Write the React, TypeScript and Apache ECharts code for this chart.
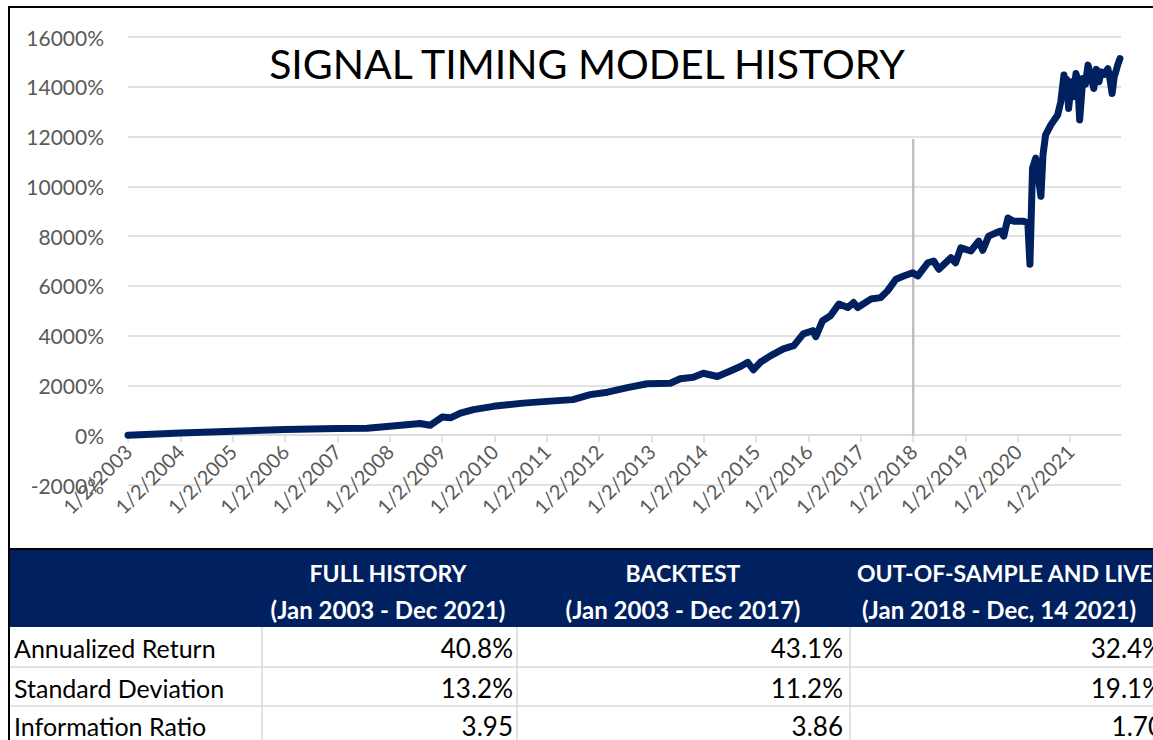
import React, { useEffect, useRef } from "react";
import * as echarts from "echarts";

// ---- chart data ----
const timeYears = [
  2003.0, 2004.0, 2005.0, 2006.0, 2007.0, 2007.57, 2008.0, 2008.58, 2008.77, 2009.0,
  2009.16, 2009.35, 2009.6, 2009.98, 2010.55, 2011.0, 2011.5, 2011.83, 2012.16, 2012.54,
  2012.92, 2013.36, 2013.55, 2013.8, 2013.99, 2014.26, 2014.45, 2014.7, 2014.84, 2014.95,
  2015.08, 2015.28, 2015.52, 2015.72, 2015.9, 2016.08, 2016.14, 2016.27, 2016.42, 2016.58,
  2016.75, 2016.86, 2016.94, 2017.19, 2017.38, 2017.51, 2017.67, 2017.82, 2017.99, 2018.09,
  2018.28, 2018.39, 2018.49, 2018.72, 2018.81, 2018.91, 2019.1, 2019.25, 2019.33, 2019.44,
  2019.58, 2019.67, 2019.73, 2019.81, 2019.92, 2020.11, 2020.19, 2020.23, 2020.28, 2020.34,
  2020.44, 2020.48, 2020.53, 2020.63, 2020.76, 2020.82, 2020.88, 2020.9, 2020.93, 2020.97,
  2021.02, 2021.06, 2021.11, 2021.14, 2021.18, 2021.24, 2021.29, 2021.34, 2021.39, 2021.45,
  2021.5, 2021.55, 2021.59, 2021.65, 2021.72, 2021.76, 2021.8, 2021.84, 2021.87, 2021.91,
  2021.95,
];
const cumulativeReturn = [
  0, 90, 160, 230, 270, 280, 360, 470, 400, 730,
  700, 890, 1030, 1160, 1290, 1360, 1430, 1630, 1730, 1910,
  2070, 2090, 2270, 2330, 2490, 2360, 2530, 2760, 2930, 2630,
  2930, 3200, 3470, 3600, 4070, 4200, 3960, 4600, 4800, 5270,
  5130, 5330, 5130, 5470, 5530, 5800, 6270, 6400, 6530, 6400,
  6930, 7000, 6670, 7130, 6930, 7530, 7400, 7800, 7430, 8000,
  8130, 8200, 8000, 8730, 8600, 8600, 8530, 6870, 10730, 11130,
  9600, 11270, 12070, 12470, 12870, 13400, 14470, 13900, 14300, 13130,
  14200, 13600, 14530, 14300, 12670, 14330, 14100, 14870, 14500, 13930,
  14700, 14200, 14600, 14500, 14730, 14300, 13730, 14400, 14600, 14900,
  15130,
];
const yearTicks = [
  2003, 2004, 2005, 2006, 2007, 2008, 2009, 2010, 2011, 2012,
  2013, 2014, 2015, 2016, 2017, 2018, 2019, 2020, 2021,
];
const dividerYear = 2018.0;
const dividerTop = 11900;

// ---- table data ----
const tableHeadTop = ["FULL HISTORY", "BACKTEST", "OUT-OF-SAMPLE AND LIVE"];
const tableHeadBottom = ["(Jan 2003 - Dec 2021)", "(Jan 2003 - Dec 2017)", "(Jan 2018 - Dec, 14 2021)"];
const rowLabels = ["Annualized Return", "Standard Deviation", "Information Ratio"];
const fullHistory = ["40.8%", "13.2%", "3.95"];
const backtest = ["43.1%", "11.2%", "3.86"];
const outOfSample = ["32.4%", "19.1%", "1.70"];

const NAVY = "#002060";
const FONT = "Lato, 'Open Sans', sans-serif";

export default function App() {
  const ref = useRef<HTMLDivElement>(null);

  useEffect(() => {
    document.body.style.margin = "0";
    if (!ref.current) return;
    const chart = echarts.init(ref.current, null, { renderer: "svg" });

    const lineData = timeYears.map((t, i) => [t, cumulativeReturn[i]]);

    const graphics: any[] = [];
    // chart border
    graphics.push({
      type: "rect",
      shape: { x: 9, y: 7, width: 1200, height: 542 },
      style: { fill: "none", stroke: "#000", lineWidth: 2 },
      z: 10,
    });
    // title
    graphics.push({
      type: "text",
      x: 587,
      y: 63,
      style: {
        text: "SIGNAL TIMING MODEL HISTORY",
        font: `41px ${FONT}`,
        fill: "#000",
        align: "center",
        verticalAlign: "middle",
      },
      z: 10,
    });
    // table header band
    graphics.push({
      type: "rect",
      shape: { x: 10, y: 550, width: 1150, height: 77 },
      style: { fill: NAVY },
      z: 5,
    });
    const colCenters = [388, 683];
    const colLeft4 = [857, 862];
    tableHeadTop.forEach((t, i) => {
      const isLast = i === 2;
      graphics.push({
        type: "text",
        x: isLast ? colLeft4[0] : colCenters[i],
        y: 573,
        style: {
          text: t,
          font: `bold 23px ${FONT}`,
          fill: "#fff",
          align: isLast ? "left" : "center",
          verticalAlign: "middle",
        },
        z: 11,
      });
      graphics.push({
        type: "text",
        x: isLast ? colLeft4[1] : colCenters[i],
        y: 609,
        style: {
          text: tableHeadBottom[i],
          font: `bold 24px ${FONT}`,
          fill: "#fff",
          align: isLast ? "left" : "center",
          verticalAlign: "middle",
        },
        z: 11,
      });
    });
    // table grid lines
    [262, 517, 850].forEach((x) => {
      graphics.push({
        type: "line",
        shape: { x1: x, y1: 627, x2: x, y2: 740 },
        style: { stroke: "#d9d9d9", lineWidth: 1.5 },
        z: 5,
      });
    });
    [667, 706].forEach((y) => {
      graphics.push({
        type: "line",
        shape: { x1: 10, y1: y, x2: 1153, y2: y },
        style: { stroke: "#d9d9d9", lineWidth: 1.5 },
        z: 5,
      });
    });
    // left black border continuing through table
    graphics.push({
      type: "line",
      shape: { x1: 9, y1: 549, x2: 9, y2: 740 },
      style: { stroke: "#000", lineWidth: 2 },
      z: 12,
    });
    const rowY = [648, 688, 726];
    rowLabels.forEach((lab, r) => {
      graphics.push({
        type: "text",
        x: 14,
        y: rowY[r],
        style: { text: lab, font: `25px ${FONT}`, fill: "#000", align: "left", verticalAlign: "middle" },
        z: 11,
      });
      const cells = [fullHistory[r], backtest[r], outOfSample[r]];
      const rights = [513, 843, 1163];
      cells.forEach((c, ci) => {
        graphics.push({
          type: "text",
          x: rights[ci],
          y: rowY[r],
          style: { text: c, font: `26px ${FONT}`, fill: "#000", align: "right", verticalAlign: "middle" },
          z: 11,
        });
      });
    });

    chart.setOption({
      animation: false,
      backgroundColor: "#fff",
      grid: { left: 128, right: 32, top: 37, bottom: 255, containLabel: false },
      xAxis: {
        type: "value",
        min: 2003,
        max: 2021.97,
        interval: 1,
        axisLine: { show: true, onZero: true, lineStyle: { color: "#d9d9d9", width: 1.5 } },
        axisTick: { show: true, length: 7, customValues: yearTicks, lineStyle: { color: "#d9d9d9", width: 1.5 } },
        axisLabel: {
          customValues: yearTicks,
          rotate: 45,
          margin: -37,
          fontFamily: FONT,
          fontSize: 20,
          color: "#595959",
          formatter: (v: number) => `1/2/${Math.round(v)}`,
        },
        splitLine: { show: false },
      },
      yAxis: {
        type: "value",
        min: -2000,
        max: 16000,
        interval: 2000,
        axisLine: { show: false },
        axisTick: { show: false },
        axisLabel: {
          margin: 24,
          fontFamily: FONT,
          fontSize: 21,
          color: "#595959",
          formatter: (v: number) => `${v}%`,
        },
        splitLine: { lineStyle: { color: "#d9d9d9", width: 1.5 } },
      },
      series: [
        {
          name: "Divider",
          type: "line",
          data: [
            [dividerYear, 0],
            [dividerYear, dividerTop],
          ],
          showSymbol: false,
          lineStyle: { color: "#bfbfbf", width: 2.5 },
          z: 1,
          silent: true,
        },
        {
          name: "Signal Timing Model",
          type: "line",
          data: lineData,
          showSymbol: false,
          lineStyle: { color: NAVY, width: 7, cap: "round", join: "round" },
          z: 2,
        },
      ],
      graphic: graphics,
    });

    return () => chart.dispose();
  }, []);

  return <div ref={ref} style={{ width: 1153, height: 740 }} />;
}
